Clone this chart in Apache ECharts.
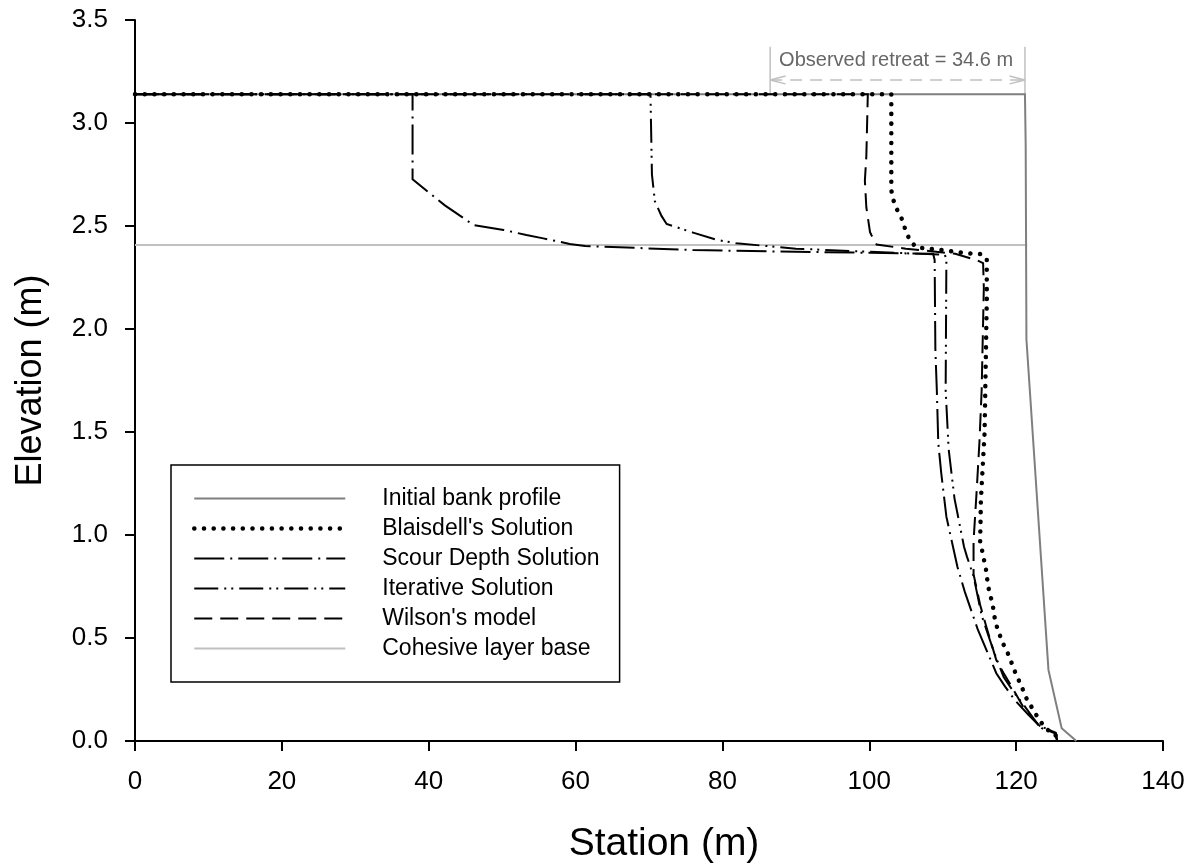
<!DOCTYPE html>
<html>
<head>
<meta charset="utf-8">
<script src="https://cdn.jsdelivr.net/npm/echarts@6/dist/echarts.min.js"></script>
<style>
  html, body { margin: 0; padding: 0; background: #fff; }
  #chart { width: 1203px; height: 865px; }
</style>
</head>
<body>
<div id="chart"></div>
<script>
// Bank profiles: station (m) vs elevation (m)
const initialX = [0, 121.2, 121.3, 121.4, 124.4, 126.2, 128.2];
const initialY = [3.14, 3.14, 2.89, 1.95, 0.345, 0.062, 0.0];

const blaisdellX = [0, 103.0, 103.0, 103.2, 103.7, 104.4, 104.9, 105.5, 106.4, 107.9, 110.8, 113.5, 115.1, 116.0, 116.0, 115.7, 115.2, 115.1, 115.4, 115.7, 116.0, 116.1, 116.4, 116.8, 117.0, 117.3, 117.8, 118.4, 119.1, 119.6, 120.2, 120.8, 121.4, 122.2, 123.1, 124.1, 125.3, 125.6];
const blaisdellY = [3.14, 3.14, 2.675, 2.634, 2.585, 2.537, 2.484, 2.432, 2.396, 2.391, 2.379, 2.367, 2.364, 2.343, 2.14, 1.494, 1.17, 0.968, 0.919, 0.866, 0.813, 0.766, 0.717, 0.665, 0.611, 0.563, 0.511, 0.458, 0.409, 0.356, 0.307, 0.259, 0.207, 0.159, 0.105, 0.057, 0.037, 0.0];

const scourX = [0, 37.8, 37.8, 42.2, 46.1, 50.2, 53.3, 55.6, 59.2, 61.3, 76.0, 90.0, 100.0, 108.7, 108.9, 109.0, 109.2, 109.4, 109.8, 110.5, 111.4, 112.0, 113.0, 114.8, 117.3, 118.5, 119.8, 121.7, 123.5, 125.3, 125.6];
const scourY = [3.14, 3.14, 2.727, 2.60, 2.505, 2.481, 2.456, 2.44, 2.413, 2.403, 2.383, 2.375, 2.37, 2.365, 2.335, 1.9, 1.70, 1.445, 1.30, 1.089, 0.943, 0.846, 0.725, 0.539, 0.329, 0.264, 0.199, 0.126, 0.062, 0.037, 0.0];

const iterativeX = [0, 70.2, 70.4, 70.8, 71.7, 72.4, 76.0, 79.2, 81.9, 90.0, 100.0, 110.3, 110.5, 110.4, 110.8, 111.6, 112.9, 113.3, 114.2, 115.3, 116.9, 118.3, 119.8, 121.2, 123.0, 125.3, 125.6];
const iterativeY = [3.14, 3.14, 2.75, 2.62, 2.549, 2.51, 2.468, 2.433, 2.416, 2.39, 2.375, 2.36, 2.335, 1.704, 1.42, 1.178, 0.943, 0.895, 0.80, 0.61, 0.44, 0.31, 0.231, 0.167, 0.078, 0.04, 0.0];

const wilsonX = [0, 99.8, 99.6, 99.4, 99.6, 100.1, 100.3, 101.0, 105.0, 111.7, 114.6, 115.5, 115.6, 115.3, 115.0, 114.6, 114.2, 114.2, 115.1, 116.0, 117.3, 118.3, 119.4, 121.2, 123.3, 125.4, 125.6];
const wilsonY = [3.14, 3.14, 2.84, 2.72, 2.59, 2.47, 2.455, 2.41, 2.39, 2.365, 2.335, 2.32, 2.2, 1.70, 1.45, 1.2, 0.97, 0.81, 0.66, 0.547, 0.393, 0.329, 0.264, 0.15, 0.07, 0.04, 0.0];

const cohesiveX = [0, 121.5];
const cohesiveY = [2.408, 2.408];

// Observed retreat bracket (from retreated crest to initial crest)
const retreatStart = 86.5;
const retreatEnd = 121.2;
const retreatLevel = 3.209;
const retreatText = 'Observed retreat = 34.6 m';

const xTicks = { min: 0, max: 140, interval: 20 };
const yTicks = { min: 0, max: 3.5, interval: 0.5 };

const zip = (xs, ys) => xs.map((x, i) => [x, ys[i]]);

const FONT = '"Liberation Sans", Arial, sans-serif';
const BRACKET = '#c0c0c0';

function profile(name, xs, ys, color, width, type, cap) {
  return {
    name: name,
    type: 'line',
    data: zip(xs, ys),
    symbol: 'none',
    showSymbol: false,
    silent: true,
    lineStyle: { color: color, width: width, type: type, cap: cap || 'butt', join: 'miter' },
    itemStyle: { color: color },
    z: 3
  };
}

function bracketLine(points, dashed) {
  return {
    type: 'line',
    data: points,
    symbol: 'none',
    silent: true,
    lineStyle: { color: BRACKET, width: 1.5, type: dashed ? [12, 8] : 'solid' },
    z: 2
  };
}

const chevronDx = 2.1, chevronDy = 0.019;

const chart = echarts.init(document.getElementById('chart'), null, { renderer: 'canvas' });

chart.setOption({
  animation: false,
  backgroundColor: '#ffffff',
  textStyle: { fontFamily: FONT },
  grid: { left: 135, right: 40, top: 20, bottom: 124, containLabel: false, outerBoundsMode: 'none' },
  xAxis: {
    type: 'value',
    min: xTicks.min, max: xTicks.max, interval: xTicks.interval,
    name: 'Station (m)',
    nameLocation: 'middle',
    nameGap: 84,
    nameTextStyle: { fontSize: 39, color: '#000', fontFamily: FONT, padding: [0, 0, 0, 30] },
    axisLine: { show: true, lineStyle: { color: '#000', width: 2 } },
    axisTick: { show: true, length: 10, lineStyle: { color: '#000', width: 2 } },
    axisLabel: { fontSize: 26, color: '#000', margin: 28, fontFamily: FONT },
    splitLine: { show: false }
  },
  yAxis: {
    type: 'value',
    min: yTicks.min, max: yTicks.max, interval: yTicks.interval,
    name: 'Elevation (m)',
    nameLocation: 'middle',
    nameGap: 86,
    nameTextStyle: { fontSize: 36, color: '#000', fontFamily: FONT },
    axisLine: { show: true, lineStyle: { color: '#000', width: 2 } },
    axisTick: { show: true, length: 10, lineStyle: { color: '#000', width: 2 } },
    axisLabel: { fontSize: 26, color: '#000', margin: 27, fontFamily: FONT,
                 formatter: v => v.toFixed(1) },
    splitLine: { show: false }
  },
  legend: {
    orient: 'vertical',
    left: 171,
    top: 465,
    padding: [22, 20, 22, 21],
    itemWidth: 151,
    itemHeight: 20,
    itemGap: 7,
    borderColor: '#000',
    borderWidth: 1.5,
    backgroundColor: '#fff',
    selectedMode: false,
    itemStyle: { opacity: 0 },
    lineStyle: { width: 'inherit' },
    data: ['Initial bank profile', "Blaisdell's Solution", 'Scour Depth Solution',
           'Iterative Solution', "Wilson's model", 'Cohesive layer base'],
    textStyle: { fontSize: 23, color: '#000', fontFamily: FONT,
                 padding: [0, 0, 0, 32] }
  },
  series: [
    profile('Cohesive layer base', cohesiveX, cohesiveY, '#c0c0c0', 2, 'solid'),
    profile('Initial bank profile', initialX, initialY, '#7f7f7f', 2, 'solid'),
    profile('Scour Depth Solution', scourX, scourY, '#000', 2, [30, 6, 2, 6]),
    profile('Iterative Solution', iterativeX, iterativeY, '#000', 2, [24, 6, 2, 5, 2, 6]),
    profile("Wilson's model", wilsonX, wilsonY, '#000', 2, [18, 8]),
    profile("Blaisdell's Solution", blaisdellX, blaisdellY, '#000', 4.5, [0.1, 9.6], 'round'),
    // retreat bracket
    bracketLine([[retreatStart, 3.37], [retreatStart, 3.14]], false),
    bracketLine([[retreatEnd, 3.37], [retreatEnd, 3.14]], false),
    bracketLine([[retreatStart, retreatLevel], [retreatEnd, retreatLevel]], true),
    bracketLine([[retreatStart + chevronDx, retreatLevel + chevronDy], [retreatStart, retreatLevel],
                 [retreatStart + chevronDx, retreatLevel - chevronDy]], false),
    bracketLine([[retreatEnd - chevronDx, retreatLevel + chevronDy], [retreatEnd, retreatLevel],
                 [retreatEnd - chevronDx, retreatLevel - chevronDy]], false),
    {
      type: 'scatter',
      data: [[(retreatStart + retreatEnd) / 2 - 0.2, 3.305]],
      symbolSize: 0,
      silent: true,
      label: {
        show: true,
        formatter: retreatText,
        position: [0, 0],
        align: 'center',
        verticalAlign: 'middle',
        fontSize: 20,
        color: '#404040',
        fontFamily: FONT
      },
      z: 4
    }
  ]
});
</script>
</body>
</html>
